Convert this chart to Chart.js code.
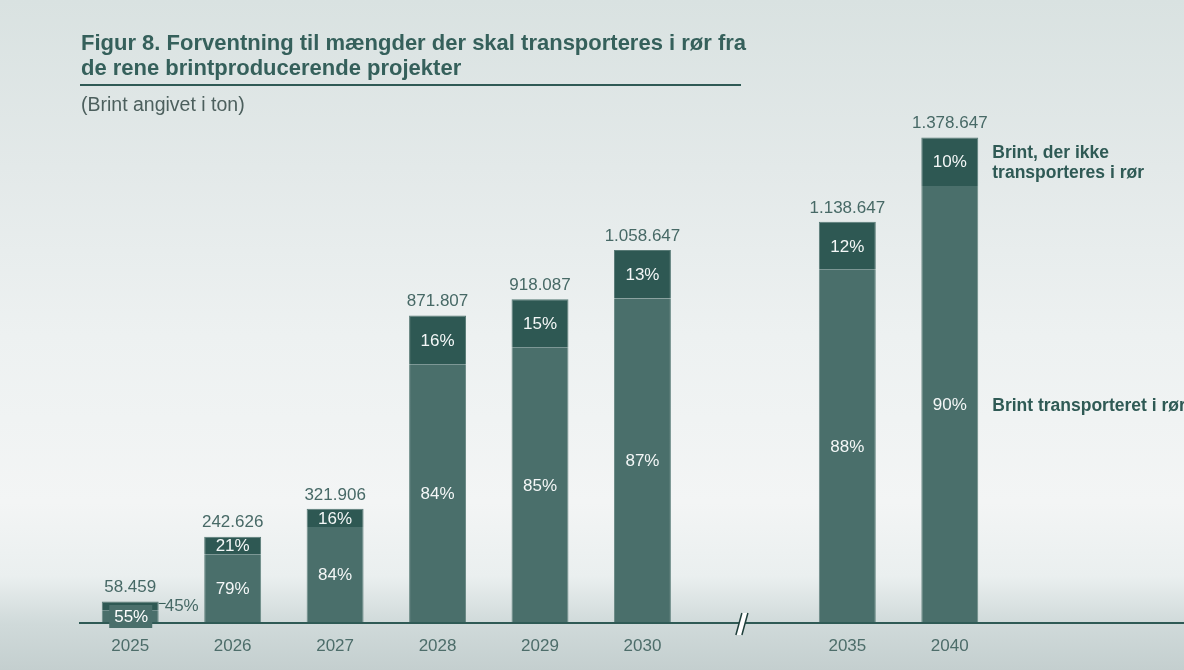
<!DOCTYPE html>
<html>
<head>
<meta charset="utf-8">
<script src="https://cdn.jsdelivr.net/npm/chart.js@4"></script>
<style>
  html, body { margin: 0; padding: 0; }
  body {
    width: 1184px; height: 670px; overflow: hidden; position: relative;
    background: linear-gradient(180deg, #d9e2e1 0%, #e3e9e9 25%, #edf1f1 50%, #f3f5f5 75%, #eaefef 86%, #d0dada 93%, #c4cfcf 100%);
    font-family: "Liberation Sans", Arial, sans-serif;
  }
  #title {
    position: absolute; left: 81px; top: 31px; width: 760px;
    font-size: 22px; font-weight: bold; line-height: 24.5px; color: #35605b;
  }
  #rule { position: absolute; left: 80px; top: 84px; width: 661px; height: 2px; background: #2f5a55; }
  #sub { position: absolute; left: 81px; top: 93px; font-size: 19.5px; color: #4c5f5d; }
  #wrap { position: absolute; left: 0; top: 0; width: 1184px; height: 670px; }
</style>
</head>
<body>
<div id="wrap"><canvas id="chart"></canvas></div>
<div id="title">Figur 8. Forventning til mængder der skal transporteres i rør fra<br>de rene brintproducerende projekter</div>
<div id="rule"></div>
<div id="sub">(Brint angivet i ton)</div>
<script>
var years = ['2025', '2026', '2027', '2028', '2029', '2030', '2035', '2040'];
var totals = [58459, 242626, 321906, 871807, 918087, 1058647, 1138647, 1378647];
// andel transporteret i rør (%)
var pipeShare = [55, 79, 84, 84, 85, 87, 88, 90];
var otherShare = [45, 21, 16, 16, 15, 13, 12, 10];
var legendTop = ['Brint, der ikke', 'transporteres i rør'];
var legendBottom = 'Brint transporteret i rør';

var breakAfter = 5; // akse-brud efter 2030

var colPipe = '#4a6f6b';
var colOther = '#2e5853';
var textCol = '#476966';
var font = '"Liberation Sans", Arial, sans-serif';

// byg labels med tom plads til aksebruddet
var labels = [], pipeData = [], otherData = [], idx = [];
for (let i = 0; i < years.length; i++) {
  labels.push(years[i]);
  pipeData.push(totals[i] * pipeShare[i] / 100);
  otherData.push(totals[i] * otherShare[i] / 100);
  idx.push(i);
  if (i == breakAfter) {
    labels.push('');
    pipeData.push(null);
    otherData.push(null);
    idx.push(-1);
  }
}

function fmt(n) {
  return String(n).replace(/\B(?=(\d{3})+(?!\d))/g, '.');
}

var labelPlugin = {
  id: 'labels',
  afterDatasetsDraw: function(chart) {
    var c = chart.ctx;
    var x = chart.scales.x;
    var area = chart.chartArea;
    var m0 = chart.getDatasetMeta(0), m1 = chart.getDatasetMeta(1);

    // akselinje
    c.save();
    c.strokeStyle = '#2f5a55';
    c.lineWidth = 2;
    c.beginPath();
    c.moveTo(area.left, area.bottom + 1);
    c.lineTo(chart.width, area.bottom + 1);
    c.stroke();

    // brud //
    var bx = x.getPixelForValue(breakAfter + 1);
    var by = area.bottom + 1;
    c.fillStyle = '#ffffff';
    c.strokeStyle = '#1f3f3b';
    c.lineWidth = 1.5;
    c.beginPath();
    c.moveTo(bx - 9, by + 12); c.lineTo(bx - 3, by - 10);
    c.lineTo(bx + 3, by - 10); c.lineTo(bx - 3, by + 12); c.closePath();
    c.fill();
    c.beginPath();
    c.moveTo(bx - 9, by + 12); c.lineTo(bx - 3, by - 10);
    c.moveTo(bx - 3, by + 12); c.lineTo(bx + 3, by - 10);
    c.stroke();

    c.textAlign = 'center';
    c.textBaseline = 'middle';
    for (let k = 0; k < labels.length; k++) {
      var i = idx[k];
      if (i < 0) continue;
      var b0 = m0.data[k], b1 = m1.data[k];
      // årstal
      c.font = '17px ' + font;
      c.fillStyle = '#4d6d6a';
      c.fillText(years[i], b0.x, area.bottom + 24);
      // total
      c.fillStyle = textCol;
      c.fillText(fmt(totals[i]), b0.x, b1.y - 14);

      if (i == 0) {
        // lille søjle: etiketter uden for
        c.fillStyle = colPipe;
        c.fillRect(b0.x - 21, b0.base - 17, 43, 23);
        c.fillStyle = '#ffffff';
        c.fillText(pipeShare[i] + '%', b0.x + 1, b0.base - 5);
        c.strokeStyle = colOther;
        c.lineWidth = 1;
        c.beginPath();
        c.moveTo(b0.x + b0.width / 2, b1.y + 2);
        c.lineTo(b0.x + b0.width / 2 + 7, b1.y + 2);
        c.stroke();
        c.fillStyle = textCol;
        c.textAlign = 'left';
        c.fillText(otherShare[i] + '%', b0.x + b0.width / 2 + 6, b1.y + 5);
        c.textAlign = 'center';
        continue;
      }
      c.fillStyle = '#f4f7f7';
      c.fillText(pipeShare[i] + '%', b0.x, (b0.y + b0.base) / 2 + 1);
      c.fillText(otherShare[i] + '%', b1.x, (b1.y + b1.base) / 2 + 1);
    }

    // forklaring ved sidste søjle
    var last = labels.length - 1;
    var l0 = m0.data[last], l1 = m1.data[last];
    var lx = l1.x + l1.width / 2 + 14;
    c.textAlign = 'left';
    c.font = 'bold 17.5px ' + font;
    c.fillStyle = '#2f5a55';
    var ly = (l1.y + l1.base) / 2;
    c.fillText(legendTop[0], lx, ly - 9);
    c.fillText(legendTop[1], lx, ly + 11);
    c.fillText(legendBottom, lx, (l0.y + l0.base) / 2 + 2);
    c.restore();
  }
};

var ctx = document.getElementById('chart').getContext('2d');
var chart = new Chart(ctx, {
  type: 'bar',
  data: {
    labels: labels,
    datasets: [
      { label: legendBottom, data: pipeData, backgroundColor: colPipe, borderColor: '#6b8a86', borderWidth: { left: 1, right: 1 } },
      { label: legendTop.join(' '), data: otherData, backgroundColor: colOther, borderColor: '#587a76', borderWidth: { left: 1, right: 1, top: 1 } }
    ]
  },
  options: {
    responsive: true,
    maintainAspectRatio: false,
    animation: false,
    layout: { padding: { left: 79, right: 183, top: 130, bottom: 48 } },
    plugins: { legend: { display: false }, tooltip: { enabled: false } },
    scales: {
      x: { stacked: true, display: false },
      y: { stacked: true, display: false, min: 0, max: 1400000 }
    },
    datasets: { bar: { categoryPercentage: 1, barPercentage: 0.556 } }
  },
  plugins: [labelPlugin]
});
</script>
</body>
</html>
